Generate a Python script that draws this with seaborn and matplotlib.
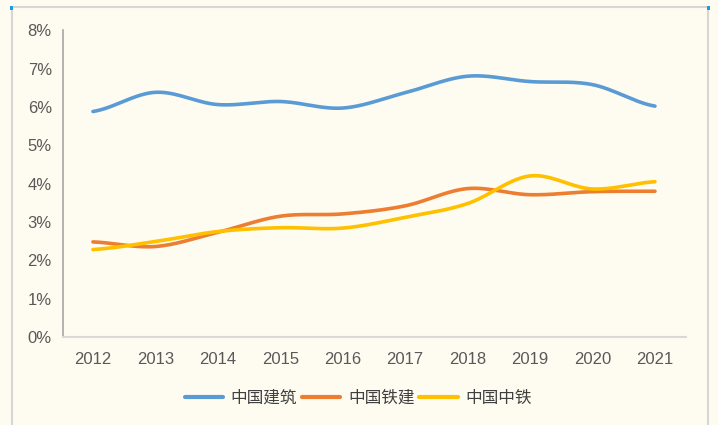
import matplotlib
matplotlib.use('Agg')
import matplotlib.pyplot as plt
import matplotlib.patches as mpatches
import numpy as np
import pandas as pd
import seaborn as sns

# 数据（净利率，%）
anos = [2012, 2013, 2014, 2015, 2016, 2017, 2018, 2019, 2020, 2021]
zgjz = [5.88, 6.38, 6.06, 6.14, 5.97, 6.37, 6.80, 6.66, 6.58, 6.02]
zgtj = [2.48, 2.36, 2.73, 3.15, 3.21, 3.42, 3.87, 3.71, 3.79, 3.80]
zgzt = [2.28, 2.49, 2.75, 2.85, 2.84, 3.12, 3.48, 4.20, 3.86, 4.05]

series = {'中国建筑': zgjz, '中国铁建': zgtj, '中国中铁': zgzt}
cores = {'中国建筑': '#5B9BD5', '中国铁建': '#ED7D31', '中国中铁': '#FFC000'}
bg = '#FEFCF1'


def suaviza(y, n=30):
    # curva suave tipo Excel (Catmull-Rom) passando pelos pontos
    y = np.asarray(y, dtype=float)
    p = np.concatenate([[y[0]], y, [y[-1]]])
    xs, ys = [], []
    for i in range(len(y) - 1):
        p0, p1, p2, p3 = p[i], p[i + 1], p[i + 2], p[i + 3]
        t = np.linspace(0, 1, n, endpoint=False)
        v = 0.5 * ((2 * p1) + (-p0 + p2) * t + (2 * p0 - 5 * p1 + 4 * p2 - p3) * t ** 2
                   + (-p0 + 3 * p1 - 3 * p2 + p3) * t ** 3)
        xs.extend(i + t)
        ys.extend(v)
    xs.append(len(y) - 1)
    ys.append(y[-1])
    return np.array(xs), np.array(ys)


linhas = []
for nome, vals in series.items():
    x, y = suaviza(vals)
    linhas.append(pd.DataFrame({'x': x, 'y': y, 'empresa': nome}))
dados = pd.concat(linhas, ignore_index=True)

sns.set_style('white')
plt.rcParams['font.family'] = ['Liberation Sans', 'Noto Sans CJK SC', 'DejaVu Sans']

fig = plt.figure(figsize=(7.18, 4.25), dpi=100, facecolor=bg)
ax = fig.add_axes([0.0877, 0.207, 0.868, 0.722], facecolor=bg)

# moldura do gráfico
fig.patches.append(mpatches.Rectangle((12 / 718, -0.05), 696 / 718, 1.05 - 7.5 / 425,
                                      transform=fig.transFigure, fill=False,
                                      edgecolor='#D6D6D6', linewidth=1.5))
# marcas de seleção nos cantos
for cx in [9.5 / 718, 706.5 / 718]:
    fig.patches.append(mpatches.Rectangle((cx, 1 - 9.5 / 425), 3 / 718, 3 / 425,
                                          transform=fig.transFigure, facecolor='#1E9BE0',
                                          edgecolor='none'))

sns.lineplot(data=dados, x='x', y='y', hue='empresa', palette=cores, ax=ax,
             linewidth=2.6, legend=False, sort=False, estimator=None)
for l in ax.lines:
    l.set_solid_capstyle('round')

ax.set_xlim(-0.48, 9.5)
ax.set_ylim(0, 8)
ax.set_xticks(range(len(anos)))
ax.set_xticklabels([str(a) for a in anos])
ax.set_yticks(range(0, 9))
ax.set_yticklabels([f'{v}%' for v in range(0, 9)])
ax.set_xlabel('')
ax.set_ylabel('')

for s in ['top', 'right']:
    ax.spines[s].set_visible(False)
ax.spines['left'].set_color('#A6A6A6')
ax.spines['left'].set_linewidth(1.2)
ax.spines['bottom'].set_color('#D9D9D9')
ax.spines['bottom'].set_linewidth(1.5)
ax.tick_params(axis='y', direction='in', length=5, width=1.2, color='#A6A6A6',
               labelsize=12, labelcolor='#595959', pad=8)
ax.tick_params(axis='x', length=0, labelsize=12, labelcolor='#595959', pad=11)

handles = [plt.Line2D([], [], color=cores[n], linewidth=3, solid_capstyle='round') for n in series]
leg = fig.legend(handles, list(series.keys()), loc='center', bbox_to_anchor=(0.499, 0.063),
                 ncol=3, frameon=False, handlelength=2.3, columnspacing=0.3,
                 handletextpad=0.45, prop={'family': ['Noto Sans CJK SC'], 'size': 12})
for t in leg.get_texts():
    t.set_color('#404040')

fig.savefig('out.png', dpi=100, facecolor=bg)
